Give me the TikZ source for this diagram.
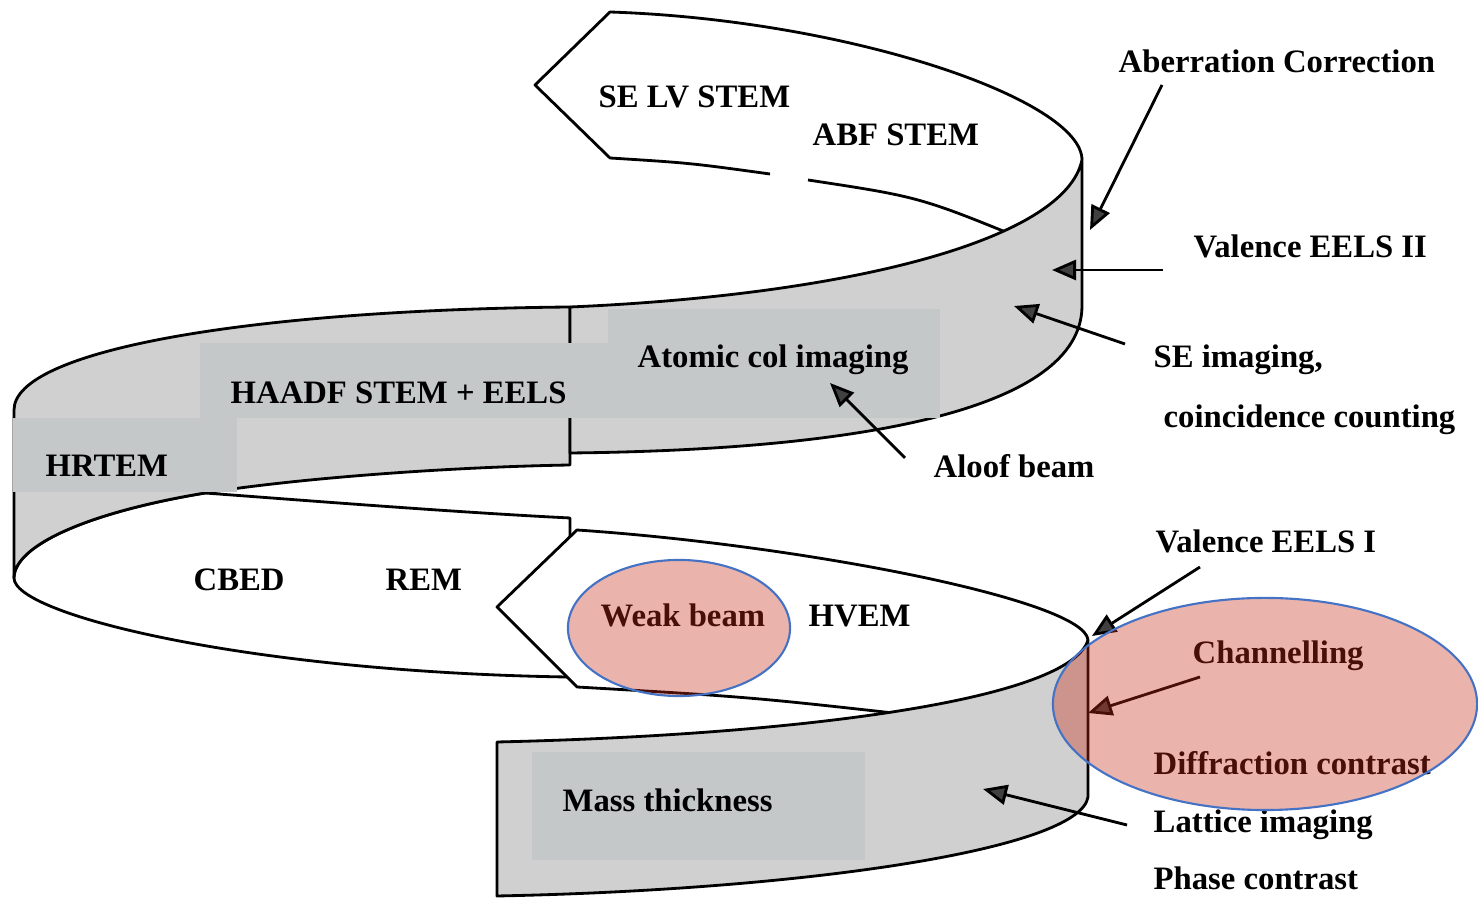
\documentclass[tikz,border=0pt]{standalone}
\usepackage{fontspec}
\setmainfont{Liberation Serif}
\usetikzlibrary{arrows.meta}

\definecolor{bandgray}{RGB}{208,208,208}
\definecolor{boxgray}{RGB}{196,200,201}
\definecolor{hilitered}{RGB}{197,44,22}
\definecolor{hiliteblue}{RGB}{68,114,196}

\tikzset{
  edge/.style={line width=0.8pt, line join=round},
  band/.style={fill=bandgray},
  lbl/.style={font=\fontsize{9.3}{11}\selectfont\bfseries, inner sep=0pt, anchor=base west},
  pointer/.style={line width=0.8pt, -{Triangle[length=2.4mm,width=2mm,fill=black!75]}},
  hilite/.style={fill=hilitered, fill opacity=0.36, draw=hiliteblue, line width=0.6pt},
}

\begin{document}
\begin{tikzpicture}[x=0.01cm, y=-0.01cm]
  \useasboundingbox (0,0) rectangle (1478,898);

  % top loop, back side
  \draw[edge] (1082,160) .. controls (1082,100) and (850,20) .. (610,12) -- (535,85) -- (610,158)
    .. controls (690,163) .. (770,174);
  \draw[edge] (808,180) .. controls (920,197) .. (1030,242);

  % middle loop, back side (left part)
  \draw[edge] (570,537) -- (570,518) .. controls (450,512) and (300,500) .. (205,493)
    .. controls (90,512) and (14,545) .. (14,578)
    .. controls (14,615) and (250,672) .. (567,677);

  % upper band, front side
  \draw[edge, band] (570,307) .. controls (250,310) and (14,350) .. (14,410) -- (14,578)
    .. controls (14,545) and (90,512) .. (205,493)
    .. controls (300,478) and (450,467) .. (570,465) -- cycle;
  \draw[edge, band] (1082,160) .. controls (1065,240) and (850,295) .. (570,307) -- (570,453)
    .. controls (860,450) and (1080,410) .. (1082,307) -- cycle;

  % middle loop, back side (right part)
  \draw[edge] (1088,640) .. controls (1085,600) and (800,545) .. (577,530) -- (497,607) -- (577,687)
    .. controls (750,697) .. (920,716);

  % lower band, front side
  \draw[edge, band] (1088,640) .. controls (1070,700) and (800,735) .. (497,742) -- (497,896)
    .. controls (800,890) and (1080,850) .. (1088,797) -- cycle;

  % shaded boxes behind labels
  \fill[boxgray] (200,343) rectangle (610,418);
  \fill[boxgray] (608,309) rectangle (940,418);
  \fill[boxgray] (13,418) rectangle (237,492);
  \fill[boxgray] (532,752) rectangle (865,860);

  % labels on the spiral
  \node[lbl] (selv) at (598,108) {SE LV STEM};
  \node[lbl] (abf) at (812,146) {ABF STEM};
  \node[lbl] (atomic) at (637,368) {Atomic col imaging};
  \node[lbl] (haadf) at (230,404) {HAADF STEM + EELS};
  \node[lbl] (hrtem) at (45,477) {HRTEM};
  \node[lbl] (cbed) at (193,591) {CBED};
  \node[lbl] (rem) at (385,591) {REM};
  \node[lbl] (weak) at (600,627) {Weak beam};
  \node[lbl] (hvem) at (808,627) {HVEM};
  \node[lbl] (mass) at (562,812) {Mass thickness};

  % labels on the right
  \node[lbl] (aberr) at (1118,73) {Aberration Correction};
  \node[lbl] (veels2) at (1193,258) {Valence EELS II};
  \node[lbl] (seimg) at (1153,368) {SE imaging,};
  \node[lbl] (coinc) at (1163,428) {coincidence counting};
  \node[lbl] (aloof) at (933,478) {Aloof beam};
  \node[lbl] (veels1) at (1155,553) {Valence EELS I};
  \node[lbl] (chan) at (1192,664) {Channelling};
  \node[lbl] (diffr) at (1153,775) {Diffraction contrast};
  \node[lbl] (latt) at (1153,833) {Lattice imaging};
  \node[lbl] (phase) at (1153,890) {Phase contrast};

  % arrows
  \coordinate (aberr-tail) at (1162,85);   \coordinate (aberr-head) at (1090,230);
  \coordinate (veels2-tail) at (1163,270); \coordinate (veels2-head) at (1052,270);
  \coordinate (seimg-tail) at (1125,344);  \coordinate (seimg-head) at (1014,306);
  \coordinate (aloof-tail) at (905,458);   \coordinate (aloof-head) at (830,383);
  \coordinate (veels1-tail) at (1200,567); \coordinate (veels1-head) at (1092,636);
  \coordinate (chan-tail) at (1200,677);   \coordinate (chan-head) at (1088,713);
  \coordinate (latt-tail) at (1127,825);   \coordinate (latt-head) at (983,789);
  \draw[pointer] (aberr-tail) -- (aberr-head);
  \draw[pointer] (veels2-tail) -- (veels2-head);
  \draw[pointer] (seimg-tail) -- (seimg-head);
  \draw[pointer] (aloof-tail) -- (aloof-head);
  \draw[pointer] (veels1-tail) -- (veels1-head);
  \draw[pointer] (chan-tail) -- (chan-head);
  \draw[pointer] (latt-tail) -- (latt-head);

  % highlights
  \draw[hilite] (679,628) ellipse [x radius=1.11cm, y radius=0.68cm];
  \draw[hilite] (1265,704) ellipse [x radius=2.12cm, y radius=1.06cm];
\end{tikzpicture}
\end{document}
